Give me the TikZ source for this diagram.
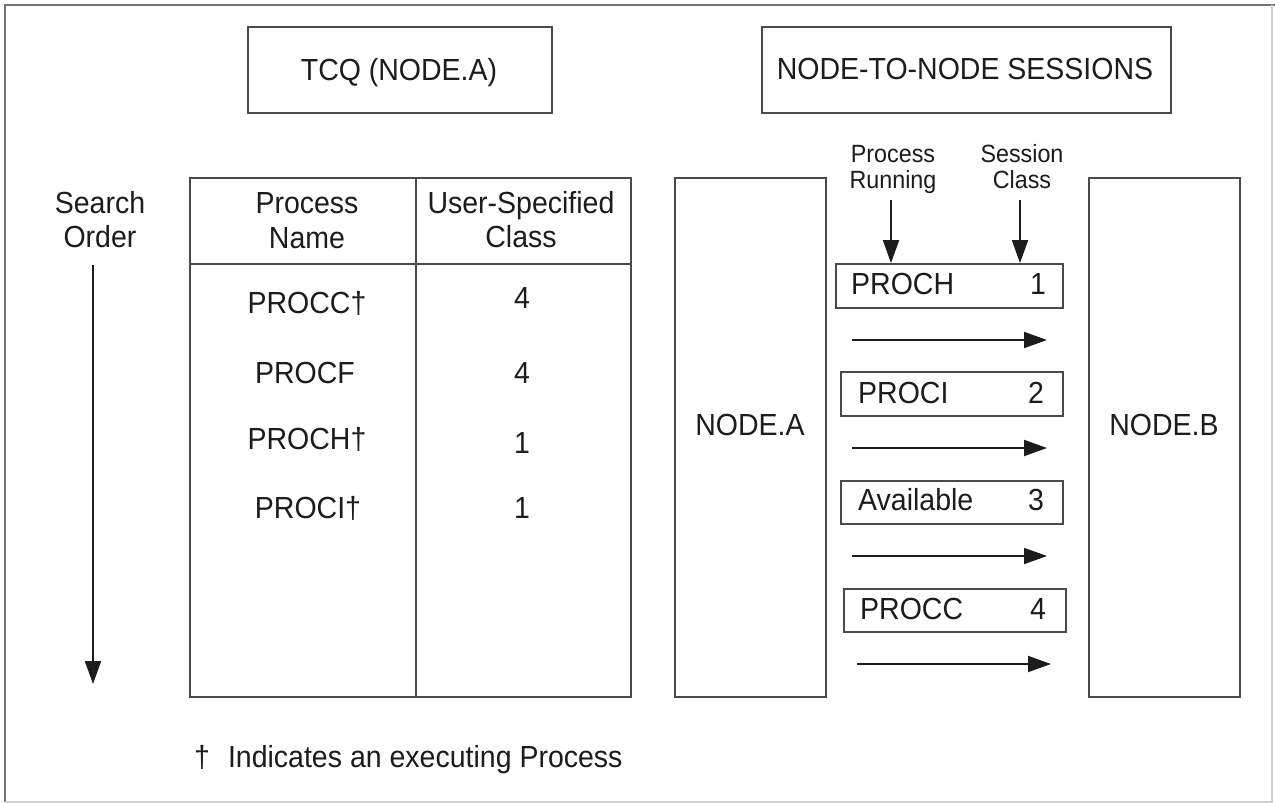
\documentclass[tikz,border=0pt]{standalone}
\usepackage{fontspec}
\usepackage{graphicx}
\setmainfont{Liberation Sans}
\usetikzlibrary{arrows.meta}
\definecolor{ln}{HTML}{4A4A4A}
\definecolor{tx}{HTML}{1C1C1C}
\newcommand\stx[1]{\scalebox{1}[1.07]{#1}}
\begin{document}
\begin{tikzpicture}[x=1pt,y=-1pt,
  box/.style={draw=ln, line width=1.9pt, inner sep=0pt, rectangle},
  lbl/.style={text=tx, font=\fontsize{28.5}{34}\selectfont, inner sep=0pt},
  small/.style={text=tx, font=\fontsize{23.3}{28}\selectfont, inner sep=0pt},
  arr/.style={draw=tx, line width=1.9pt, -{Triangle[length=23pt,width=16pt]}},
  grid/.style={draw=ln, line width=1.9pt},
]
\useasboundingbox (0,0) rectangle (1275,803);
\fill[white] (0,0) rectangle (1275,803);
% outer frame
\draw[line width=2.5pt, color=black!55] (5,802) -- (5,5) -- (1275,5);
\draw[line width=1.2pt, color=black!18] (1272,5) -- (1272,802) -- (5,802);

% title boxes
\node[box, minimum width=304pt, minimum height=86pt] (tcq) at (400,70) {};
\node[lbl, anchor=base] (tcqt) at (399,80) {\stx{TCQ (NODE.A)}};
\node[box, minimum width=409pt, minimum height=86pt] (ntn) at (966.5,70) {};
\node[lbl, anchor=base] (ntnt) at (965,79) {\stx{NODE-TO-NODE SESSIONS}};

% search order
\node[lbl, anchor=base] (so1) at (100,213) {\stx{Search}};
\node[lbl, anchor=base] (so2) at (100,247) {\stx{Order}};
\coordinate (sos) at (93,265);
\coordinate (soe) at (93,684);
\draw[arr] (sos) -- (soe);

% table
\node[box, minimum width=441pt, minimum height=519pt] (tbl) at (410.5,437.5) {};
\draw[grid] (416,178) -- (416,697);
\draw[grid] (190,264) -- (631,264);
\node[lbl, anchor=base] (h1a) at (307,213) {\stx{Process}};
\node[lbl, anchor=base] (h1b) at (307,248) {\stx{Name}};
\node[lbl, anchor=base] (h2a) at (521,213) {\stx{User-Specified}};
\node[lbl, anchor=base] (h2b) at (521,247) {\stx{Class}};
\node[lbl, anchor=base] (r1n) at (307,313) {\stx{PROCC†}};
\node[lbl, anchor=base] (r1c) at (522,308) {\stx{4}};
\node[lbl, anchor=base] (r2n) at (305,383) {\stx{PROCF}};
\node[lbl, anchor=base] (r2c) at (522,383) {\stx{4}};
\node[lbl, anchor=base] (r3n) at (307,449) {\stx{PROCH†}};
\node[lbl, anchor=base] (r3c) at (522,453) {\stx{1}};
\node[lbl, anchor=base] (r4n) at (308,518) {\stx{PROCI†}};
\node[lbl, anchor=base] (r4c) at (522,518) {\stx{1}};

% footnote
\node[lbl, anchor=base west] (foot) at (194,767) {\stx{†\kern18pt Indicates an executing Process}};

% node boxes
\node[box, minimum width=151pt, minimum height=519pt] (na) at (750.5,437.5) {};
\node[lbl, anchor=base] (nat) at (750,435) {\stx{NODE.A}};
\node[box, minimum width=151pt, minimum height=519pt] (nb) at (1164.5,437.5) {};
\node[lbl, anchor=base] (nbt) at (1164,435) {\stx{NODE.B}};

% column labels
\node[small, anchor=base] (pr1) at (893,162) {\stx{Process}};
\node[small, anchor=base] (pr2) at (893,188) {\stx{Running}};
\node[small, anchor=base] (sc1) at (1022,162) {\stx{Session}};
\node[small, anchor=base] (sc2) at (1022,188) {\stx{Class}};

% session boxes
\node[box, minimum width=227pt, minimum height=44pt] (s1) at (949.5,286) {};
\node[lbl, anchor=base west] (s1n) at (851,294) {\stx{PROCH}};
\node[lbl, anchor=base] (s1c) at (1038,294) {\stx{1}};
\node[box, minimum width=222pt, minimum height=44pt] (s2) at (952,394) {};
\node[lbl, anchor=base west] (s2n) at (858,403) {\stx{PROCI}};
\node[lbl, anchor=base] (s2c) at (1036,403) {\stx{2}};
\node[box, minimum width=222pt, minimum height=43pt] (s3) at (952,502.5) {};
\node[lbl, anchor=base west] (s3n) at (858,510) {\stx{Available}};
\node[lbl, anchor=base] (s3c) at (1036,510) {\stx{3}};
\node[box, minimum width=222pt, minimum height=43pt] (s4) at (955,610.5) {};
\node[lbl, anchor=base west] (s4n) at (860,619) {\stx{PROCC}};
\node[lbl, anchor=base] (s4c) at (1038,619) {\stx{4}};

% down arrows
\coordinate (d1) at (891,200);
\coordinate (d2) at (1020,200);
\draw[arr] (d1) -- (d1 |- s1.north);
\draw[arr] (d2) -- (d2 |- s1.north);

% horizontal arrows
\coordinate (a1s) at (852,340);  \coordinate (a1e) at (1047,340);
\coordinate (a2s) at (852,448);  \coordinate (a2e) at (1047,448);
\coordinate (a3s) at (852,556);  \coordinate (a3e) at (1047,556);
\coordinate (a4s) at (857,664);  \coordinate (a4e) at (1051,664);
\draw[arr] (a1s) -- (a1e);
\draw[arr] (a2s) -- (a2e);
\draw[arr] (a3s) -- (a3e);
\draw[arr] (a4s) -- (a4e);
\end{tikzpicture}
\end{document}
